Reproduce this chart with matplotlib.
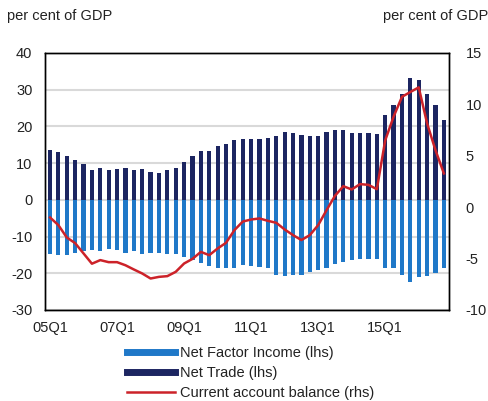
import matplotlib
matplotlib.use("Agg")
from matplotlib import pyplot as plt
from matplotlib.lines import Line2D
import numpy as np

plt.rcParams['font.family'] = ['Liberation Sans', 'DejaVu Sans']
plt.rcParams['text.color'] = '#222222'
plt.rcParams['axes.unicode_minus'] = False

# quarters 05Q1 .. 16Q4
quarters = [f"{y:02d}Q{q}" for y in range(5, 17) for q in range(1, 5)]
tick_labels = ["05Q1", "07Q1", "09Q1", "11Q1", "13Q1", "15Q1"]

net_trade = [13.6, 12.9, 12.0, 10.9, 9.7, 8.0, 8.6, 8.0, 8.4, 8.6, 8.0, 8.4,
             7.6, 7.3, 8.0, 8.6, 10.3, 12.0, 13.3, 13.3, 14.7, 15.3, 16.3, 16.5,
             16.5, 16.5, 16.9, 17.3, 18.5, 18.2, 17.6, 17.3, 17.3, 18.5, 18.9, 18.9,
             18.2, 18.2, 18.2, 17.8, 23.2, 25.8, 28.8, 33.1, 32.5, 28.8, 25.8, 21.8]

net_factor_income = [-14.7, -15.1, -15.1, -14.4, -14.0, -13.8, -14.0, -13.5, -13.8, -14.4, -14.0, -14.7,
                     -14.5, -14.5, -14.7, -14.7, -15.6, -16.4, -17.3, -18.0, -18.7, -18.7, -18.7, -17.7,
                     -18.0, -18.4, -18.7, -20.4, -20.7, -20.4, -20.4, -19.6, -19.1, -18.7, -17.5, -16.9,
                     -16.5, -16.2, -16.2, -16.0, -18.7, -18.7, -20.4, -22.3, -21.1, -20.7, -20.0, -18.7]

current_account = [-1.0, -1.75, -2.95, -3.5, -4.5, -5.5, -5.15, -5.35, -5.35, -5.65, -6.06, -6.45,
                   -6.94, -6.78, -6.71, -6.29, -5.48, -5.03, -4.35, -4.67, -4.02, -3.47, -2.24, -1.4,
                   -1.2, -1.1, -1.33, -1.52, -2.17, -2.72, -3.2, -2.72, -1.75, -0.29, 1.1, 2.04,
                   1.72, 2.24, 2.17, 1.75, 6.5, 8.8, 10.73, 11.2, 11.65, 8.14, 5.54, 3.28]

light_blue = "#1f78c8"
navy = "#1c2561"
red = "#cc2229"

fig = plt.figure(figsize=(4.89, 4.01), dpi=100)
ax = fig.add_axes([0.092, 0.227, 0.826, 0.641])
x = np.arange(len(quarters))

ax.bar(x, net_factor_income, width=0.5, color=light_blue, zorder=2)
ax.bar(x, net_trade, width=0.5, color=navy, zorder=2)

ax.set_ylim(-30, 40)
ax.set_yticks(range(-30, 41, 10))
ax.set_xlim(-0.6, len(quarters) - 0.4)
ax.set_xticks([quarters.index(t) for t in tick_labels])
ax.set_xticklabels(tick_labels)
ax.yaxis.grid(True, color="#d9d9d9", linewidth=1.5, zorder=0)
ax.set_axisbelow(True)
ax.tick_params(axis="y", length=0, labelsize=10.5, pad=9, labelcolor="#222222")
ax.tick_params(axis="x", length=0, labelsize=10.5, pad=8, labelcolor="#222222")

ax2 = ax.twinx()
ax2.plot(x, current_account, color=red, linewidth=1.8, zorder=3)
ax2.set_ylim(-10, 15)
ax2.set_yticks(range(-10, 16, 5))
ax2.tick_params(length=0, labelsize=10.5, pad=12, labelcolor="#222222")

for a in (ax, ax2):
    for s in a.spines.values():
        s.set_color("black")
        s.set_linewidth(1)

fig.text(0.014, 0.96, "per cent of GDP", fontsize=10.5, va="center")
fig.text(0.783, 0.96, "per cent of GDP", fontsize=10.5, va="center")

handles = [Line2D([], [], color=light_blue, linewidth=5),
           Line2D([], [], color=navy, linewidth=5),
           Line2D([], [], color=red, linewidth=1.8)]
labels = ["Net Factor Income (lhs)", "Net Trade (lhs)", "Current account balance (rhs)"]
fig.legend(handles, labels, loc="upper left", bbox_to_anchor=(0.26, 0.137),
           frameon=False, fontsize=10.5, handlelength=3.3, handletextpad=0.35,
           labelspacing=0.42, borderaxespad=0, borderpad=0)

fig.savefig("out.png", dpi=100)
